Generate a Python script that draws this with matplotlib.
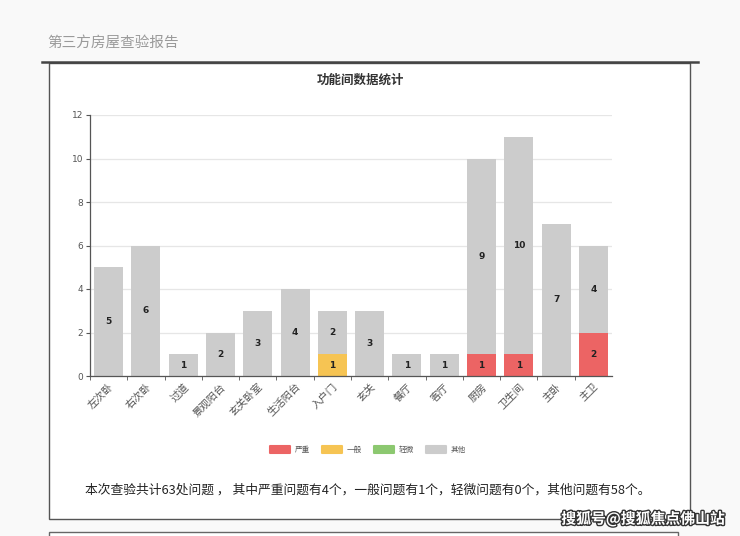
import matplotlib
matplotlib.use("Agg")
import numpy as np
import matplotlib.pyplot as plt
import matplotlib.patheffects as pe
from matplotlib.patches import Rectangle
from matplotlib.lines import Line2D

plt.rcParams['font.family'] = ['Noto Sans CJK SC', 'DejaVu Sans']

rooms = ["左次卧", "右次卧", "过道", "景观阳台", "玄关卧室", "生活阳台", "入户门",
         "玄关", "餐厅", "客厅", "厨房", "卫生间", "主卧", "主卫"]
serious = [0, 0, 0, 0, 0, 0, 0, 0, 0, 0, 1, 1, 0, 2]
general = [0, 0, 0, 0, 0, 0, 1, 0, 0, 0, 0, 0, 0, 0]
minor = [0, 0, 0, 0, 0, 0, 0, 0, 0, 0, 0, 0, 0, 0]
other = [5, 6, 1, 2, 3, 4, 2, 3, 1, 1, 9, 10, 7, 4]
level_names = ["严重", "一般", "轻微", "其他"]
level_colors = ["#ec6464", "#f6c453", "#8cc870", "#cccccc"]

W, H = 740, 536
fig = plt.figure(figsize=(W / 100, H / 100), dpi=100)
fig.patch.set_facecolor("#f9f9f9")

def fx(px):
    return px / W

def fy(py):
    return 1 - py / H

# page frame / header
fig.patches.append(Rectangle((fx(49), fy(519)), fx(690) - fx(49), fy(63) - fy(519),
                             transform=fig.transFigure, facecolor="white",
                             edgecolor="#555555", lw=1.0, zorder=-2))
fig.patches.append(Rectangle((fx(49), fy(560)), fx(678) - fx(49), fy(532) - fy(560),
                             transform=fig.transFigure, facecolor="white",
                             edgecolor="#666666", lw=1.0, zorder=-2))
fig.lines.append(Line2D([fx(42), fx(698)], [fy(62), fy(62)], transform=fig.transFigure,
                        color="#444444", lw=1.8, zorder=-1))
fig.text(fx(47), fy(44), "第三方房屋查验报告", fontsize=10.5, color="#9a9a9a", va="center")
fig.text(fx(360), fy(80), "功能间数据统计", fontsize=9, fontweight="bold",
         color="#333333", ha="center", va="center")

ax = fig.add_axes([fx(90), fy(376), fx(612) - fx(90), fy(115) - fy(376)])
ax.set_zorder(1)
ax.patch.set_alpha(0)
x = np.arange(len(rooms))
width = 0.78
bottom = np.zeros(len(rooms))
for name, vals, col in zip(level_names, [serious, general, minor, other], level_colors):
    vals = np.array(vals)
    bars = ax.bar(x, vals, width, bottom=bottom, color=col, zorder=2, label=name)
    for b, v, b0 in zip(bars, vals, bottom):
        if v > 0:
            ax.text(b.get_x() + b.get_width() / 2, b0 + v / 2, str(v), ha="center",
                    va="center", fontsize=6.5, fontweight="bold", color="#222222",
                    family="DejaVu Sans", zorder=3)
    bottom += vals

ax.set_xlim(-0.5, len(rooms) - 0.5)
ax.set_ylim(0, 12)
ax.set_yticks(range(0, 13, 2))
ax.grid(axis="y", color="#e6e6e6", lw=0.9, zorder=0)
for s in ["top", "right"]:
    ax.spines[s].set_visible(False)
for s in ["left", "bottom"]:
    ax.spines[s].set_color("#555555")
    ax.spines[s].set_linewidth(0.9)
ax.set_xticks(x)
ax.set_xticklabels(rooms, rotation=45, ha="right", rotation_mode="anchor",
                   fontsize=7.5, color="#555555")
ax.set_xticks(x - 0.5, minor=True)
ax.tick_params(axis="x", which="major", length=0, pad=4)
ax.tick_params(axis="x", which="minor", length=3, color="#555555")
ax.tick_params(axis="y", length=3, labelsize=6.5, colors="#555555", pad=2)
for t in ax.get_yticklabels():
    t.set_family("DejaVu Sans")

handles, labels = ax.get_legend_handles_labels()
leg = fig.legend(handles, labels, loc="center", bbox_to_anchor=(fx(368), fy(450)), ncol=4,
                 frameon=False, fontsize=5.5, handlelength=2.6, handleheight=0.9,
                 columnspacing=1.6, handletextpad=0.6, labelcolor="#555555")
for h in leg.legend_handles:
    h.set_edgecolor(h.get_facecolor())
    h.set_linewidth(1.5)
    h.set_joinstyle("round")

total = sum(serious) + sum(general) + sum(minor) + sum(other)
summary = (f"本次查验共计{total}处问题 ， 其中严重问题有{sum(serious)}个，一般问题有{sum(general)}个，"
           f"轻微问题有{sum(minor)}个，其他问题有{sum(other)}个。")
fig.text(fx(85), fy(490), summary, fontsize=9.2, color="#222222", va="center")

fig.text(fx(725), fy(519), "搜狐号@搜狐焦点佛山站", fontsize=10.7, color="white",
         ha="right", va="center", fontweight="bold",
         path_effects=[pe.withStroke(linewidth=2, foreground="#333333")])

fig.savefig("out.png", dpi=100, facecolor=fig.get_facecolor())
